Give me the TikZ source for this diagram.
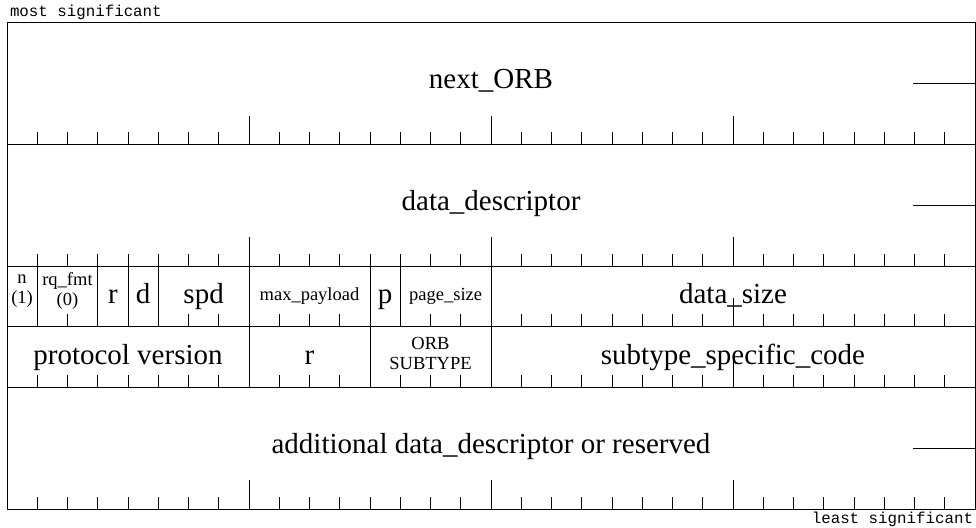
\documentclass[tikz,border=0pt]{standalone}
\usepackage{fontspec}
\setmainfont{Liberation Serif}
\setmonofont{Liberation Mono}
\usetikzlibrary{positioning}

\newcommand{\bitw}{30.25pt}
\newcommand{\rowh}{60.75pt}

\begin{document}
\begin{tikzpicture}[
  x=\bitw, y=-\rowh,
  line width=1pt,
  every node/.style = {inner sep=0pt, outer sep=0pt},
  field/.style = {draw, rectangle, minimum width=#1*\bitw},
  tallrow/.style = {minimum height=2*\rowh},
  shortrow/.style = {minimum height=\rowh},
  bigtxt/.style = {font=\fontsize{29}{31}\selectfont, text height=17pt, text depth=7pt},
  midtxt/.style = {font=\fontsize{29}{31}\selectfont, text height=20pt, text depth=5pt},
  smalltxt/.style = {font=\fontsize{18.5}{20}\selectfont},
  twoline/.style = {smalltxt, align=center},
  monotxt/.style = {font=\fontsize{15.8}{17}\selectfont\ttfamily}]
  \useasboundingbox (-7pt,23pt) rectangle (969pt,-504pt);

  \node[field=32, tallrow, bigtxt, anchor=north west] (nextorb) at (0,0) {next\_ORB};
  \node[field=32, tallrow, bigtxt, below=0pt of nextorb] (datadesc) {data\_descriptor};

  \node[field=1, shortrow, anchor=north west] (nbit) at (datadesc.south west) {};
  \node[field=2, shortrow, right=0pt of nbit] (rqfmt) {};
  \node[field=1, shortrow, midtxt, right=0pt of rqfmt] (rbit) {r};
  \node[field=1, shortrow, midtxt, right=0pt of rbit] (dbit) {d};
  \node[field=3, shortrow, midtxt, right=0pt of dbit] (spd) {spd};
  \node[field=4, shortrow, smalltxt, text height=14pt, text depth=5pt, right=0pt of spd] (maxpay) {max\_payload};
  \node[field=1, shortrow, midtxt, right=0pt of maxpay] (pbit) {p};
  \node[field=3, shortrow, smalltxt, text height=14pt, text depth=5pt, right=0pt of pbit] (pgsize) {page\_size};
  \node[field=16, shortrow, midtxt, right=0pt of pgsize] (datasize) {data\_size};
  \node[twoline, yshift=5pt] (nbittxt) at (nbit) {n\\(1)};
  \node[twoline, yshift=5pt] (rqfmttxt) at (rqfmt) {rq\_fmt\\(0)};

  \node[field=8, shortrow, midtxt, anchor=north west] (protver) at (nbit.south west) {protocol version};
  \node[field=4, shortrow, midtxt, right=0pt of protver] (rsv) {r};
  \node[field=4, shortrow, right=0pt of rsv] (orbsub) {};
  \node[field=16, shortrow, midtxt, right=0pt of orbsub] (subcode) {subtype\_specific\_code};
  \node[twoline, yshift=4pt] (orbsubtxt) at (orbsub) {ORB\\SUBTYPE};

  \node[field=32, tallrow, bigtxt, anchor=north west] (addl) at (protver.south west) {additional data\_descriptor or reserved};

  \foreach \yb in {2,4,8} {
    \foreach \b in {1,...,31} \draw (\b,\yb) -- ++(0pt,12.5pt);
    \foreach \b in {8,16,24} \draw (\b,\yb) -- ++(0pt,29pt);
  }
  \foreach \yb in {5,6} {
    \foreach \b in {9,10,11,14,15} \draw (\b,\yb) -- ++(0pt,12.5pt);
    \foreach \b in {17,...,31} \draw (\b,\yb) -- ++(0pt,12.5pt);
    \draw (24,\yb) -- ++(0pt,29pt);
  }
  \foreach \b in {2,6,7} \draw (\b,5) -- ++(0pt,12.5pt);
  \foreach \b in {1,...,7,13} \draw (\b,6) -- ++(0pt,12.5pt);

  \draw (nextorb.east) -- ++(-62pt,0pt);
  \draw (datadesc.east) -- ++(-62pt,0pt);
  \draw (addl.east) -- ++(-62pt,0pt);

  \node[monotxt, anchor=base west] (msb) at ([xshift=3pt,yshift=6pt]nextorb.north west) {most significant};
  \node[monotxt, anchor=base east] (lsb) at ([xshift=-2pt,yshift=-14.7pt]addl.south east) {least significant};
\end{tikzpicture}
\end{document}
